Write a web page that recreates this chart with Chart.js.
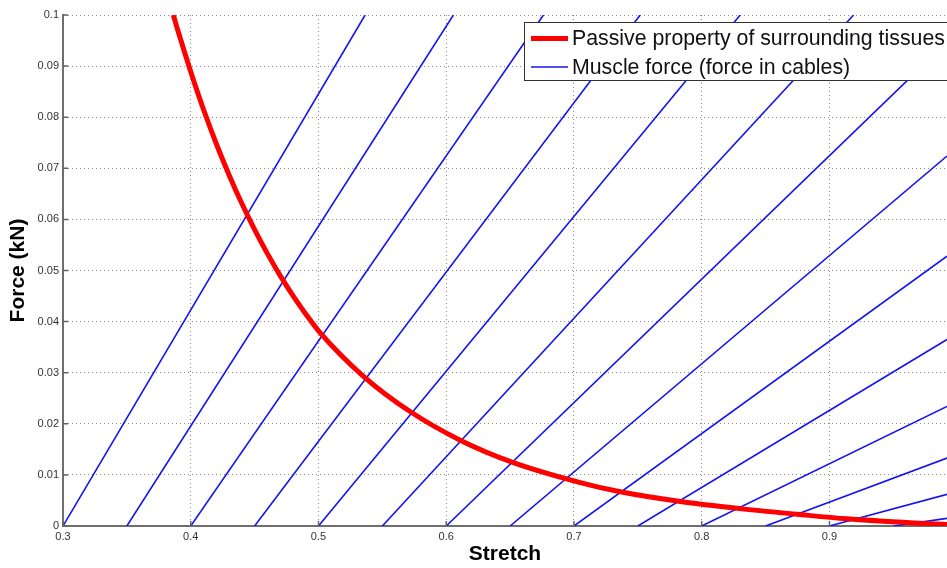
<!DOCTYPE html>
<html>
<head>
<meta charset="utf-8">
<script src="https://cdn.jsdelivr.net/npm/chart.js@4/dist/chart.umd.min.js"></script>
<style>
  html, body { margin: 0; padding: 0; background: #fff; }
  #wrap { width: 947px; height: 568px; }
</style>
</head>
<body>
<div id="wrap"><canvas id="forceChart" width="947" height="568"></canvas></div>
<script>
// axis ticks
const stretchTicks = [0.3, 0.4, 0.5, 0.6, 0.7, 0.8, 0.9];
const forceTicks = [0, 0.01, 0.02, 0.03, 0.04, 0.05, 0.06, 0.07, 0.08, 0.09, 0.1];

// passive property of surrounding tissues (red curve)
const passiveStretch = [0.3864, 0.39, 0.40, 0.41, 0.42, 0.43, 0.44, 0.45, 0.46, 0.47, 0.48, 0.49, 0.50,
    0.5352, 0.5717, 0.6109, 0.6526, 0.7049, 0.7362, 0.7832, 0.83, 0.8745, 0.9137, 0.9659, 0.992];
const passiveForce = [0.1, 0.0969, 0.0889, 0.0815, 0.0748, 0.0687, 0.0631, 0.058, 0.0533, 0.049, 0.0451, 0.0415, 0.0382,
    0.0293, 0.0224, 0.0168, 0.0124, 0.0085, 0.0067, 0.0048, 0.0034, 0.0023, 0.0014, 0.0006, 0.0003];

// muscle force in cables (blue lines): start at zero force, end where they leave the plot
const cableStart = [0.3, 0.35, 0.4, 0.45, 0.5, 0.55, 0.6, 0.65, 0.7, 0.75, 0.8, 0.85, 0.9, 0.95];
const cableEndStretch = [0.5365, 0.6056, 0.6761, 0.7518, 0.8301, 0.9189, 0.992, 0.992, 0.992, 0.992, 0.992, 0.992, 0.992, 0.992];
const cableEndForce = [0.1, 0.1, 0.1, 0.1, 0.1, 0.1, 0.0947, 0.0724, 0.0528, 0.0365, 0.0234, 0.0133, 0.0062, 0.0015];

const passiveLabel = 'Passive property of surrounding tissues';
const cableLabel = 'Muscle force (force in cables)';
const passiveColor = '#ff0000';
const cableColor = '#1414f0';

const datasets = [{
    label: passiveLabel,
    data: passiveStretch.map((x, i) => ({ x: x, y: passiveForce[i] })),
    borderColor: passiveColor,
    borderWidth: 5,
    cubicInterpolationMode: 'monotone'
}];
cableStart.forEach((x0, i) => {
    datasets.push({
        label: cableLabel,
        data: [{ x: x0, y: 0 }, { x: cableEndStretch[i], y: cableEndForce[i] }],
        borderColor: cableColor,
        borderWidth: 1.6
    });
});

const tickFont = { family: '"Liberation Sans", Arial, sans-serif', size: 11 };
const titleFont = { family: '"Liberation Sans", Arial, sans-serif', size: 21, weight: 'bold' };
const fmt = v => String(Math.round(v * 100) / 100);

// short MATLAB-style tick marks pointing into the plot
const innerTicks = {
    id: 'innerTicks',
    afterDatasetsDraw(chart) {
        const { ctx, chartArea, scales } = chart;
        ctx.save();
        ctx.strokeStyle = '#666';
        ctx.lineWidth = 1.5;
        ctx.beginPath();
        forceTicks.forEach(v => {
            const y = scales.y.getPixelForValue(v);
            ctx.moveTo(chartArea.left, y);
            ctx.lineTo(chartArea.left + 5, y);
        });
        stretchTicks.forEach(v => {
            const x = scales.x.getPixelForValue(v);
            ctx.moveTo(x, chartArea.bottom);
            ctx.lineTo(x, chartArea.bottom - 5);
        });
        ctx.stroke();
        ctx.restore();
    }
};

// legend box sitting on top of the lines, top right of the plot
const insideLegend = {
    id: 'insideLegend',
    afterDatasetsDraw(chart) {
        const { ctx, chartArea } = chart;
        const left = chartArea.right - 423;
        const top = chartArea.top + 7;
        const w = 440, h = 58;
        ctx.save();
        ctx.fillStyle = '#fff';
        ctx.fillRect(left, top, w, h);
        ctx.strokeStyle = '#333';
        ctx.lineWidth = 1;
        ctx.strokeRect(left + 0.5, top + 0.5, w, h);

        const rows = [
            { label: passiveLabel, color: passiveColor, width: 5 },
            { label: cableLabel, color: cableColor, width: 1.6 }
        ];
        ctx.font = '21.3px "Liberation Sans", Arial, sans-serif';
        ctx.textBaseline = 'middle';
        rows.forEach((r, i) => {
            const y = top + 16.5 + i * 28.5;
            ctx.strokeStyle = r.color;
            ctx.lineWidth = r.width;
            ctx.beginPath();
            ctx.moveTo(left + 7, y);
            ctx.lineTo(left + 44, y);
            ctx.stroke();
            ctx.fillStyle = '#111';
            ctx.fillText(r.label, left + 48, y + 1);
        });
        ctx.restore();
    }
};

new Chart(document.getElementById('forceChart'), {
    type: 'scatter',
    data: { datasets: datasets },
    options: {
        responsive: false,
        animation: false,
        showLine: true,
        elements: { point: { radius: 0, hoverRadius: 0 } },
        layout: { padding: { top: 15, right: 0, left: 0, bottom: 0 } },
        plugins: {
            legend: { display: false },
            tooltip: { enabled: false }
        },
        scales: {
            x: {
                type: 'linear',
                min: 0.3,
                max: 0.992,
                afterBuildTicks: axis => { axis.ticks = stretchTicks.map(v => ({ value: v })); },
                afterFit: scale => { scale.height = 42; },
                grid: { color: '#8a8a8a', lineWidth: 1, drawTicks: false },
                border: { display: true, color: '#6e6e6e', width: 2, dash: [1, 3] },
                ticks: { font: tickFont, color: '#333', padding: 4, maxRotation: 0, callback: fmt },
                title: { display: true, text: 'Stretch', font: titleFont, color: '#000', padding: { top: 0, bottom: 1 } }
            },
            y: {
                type: 'linear',
                min: 0,
                max: 0.1,
                afterBuildTicks: axis => { axis.ticks = forceTicks.map(v => ({ value: v })); },
                afterFit: scale => { scale.width = 63; },
                grid: { color: '#8a8a8a', lineWidth: 1, drawTicks: false },
                border: { display: true, color: '#6e6e6e', width: 2, dash: [1, 3] },
                ticks: { font: tickFont, color: '#333', padding: 4, callback: fmt },
                title: { display: true, text: 'Force (kN)', font: titleFont, color: '#000', padding: { top: 6, bottom: 0 } }
            }
        }
    },
    plugins: [innerTicks, insideLegend]
});
</script>
</body>
</html>
